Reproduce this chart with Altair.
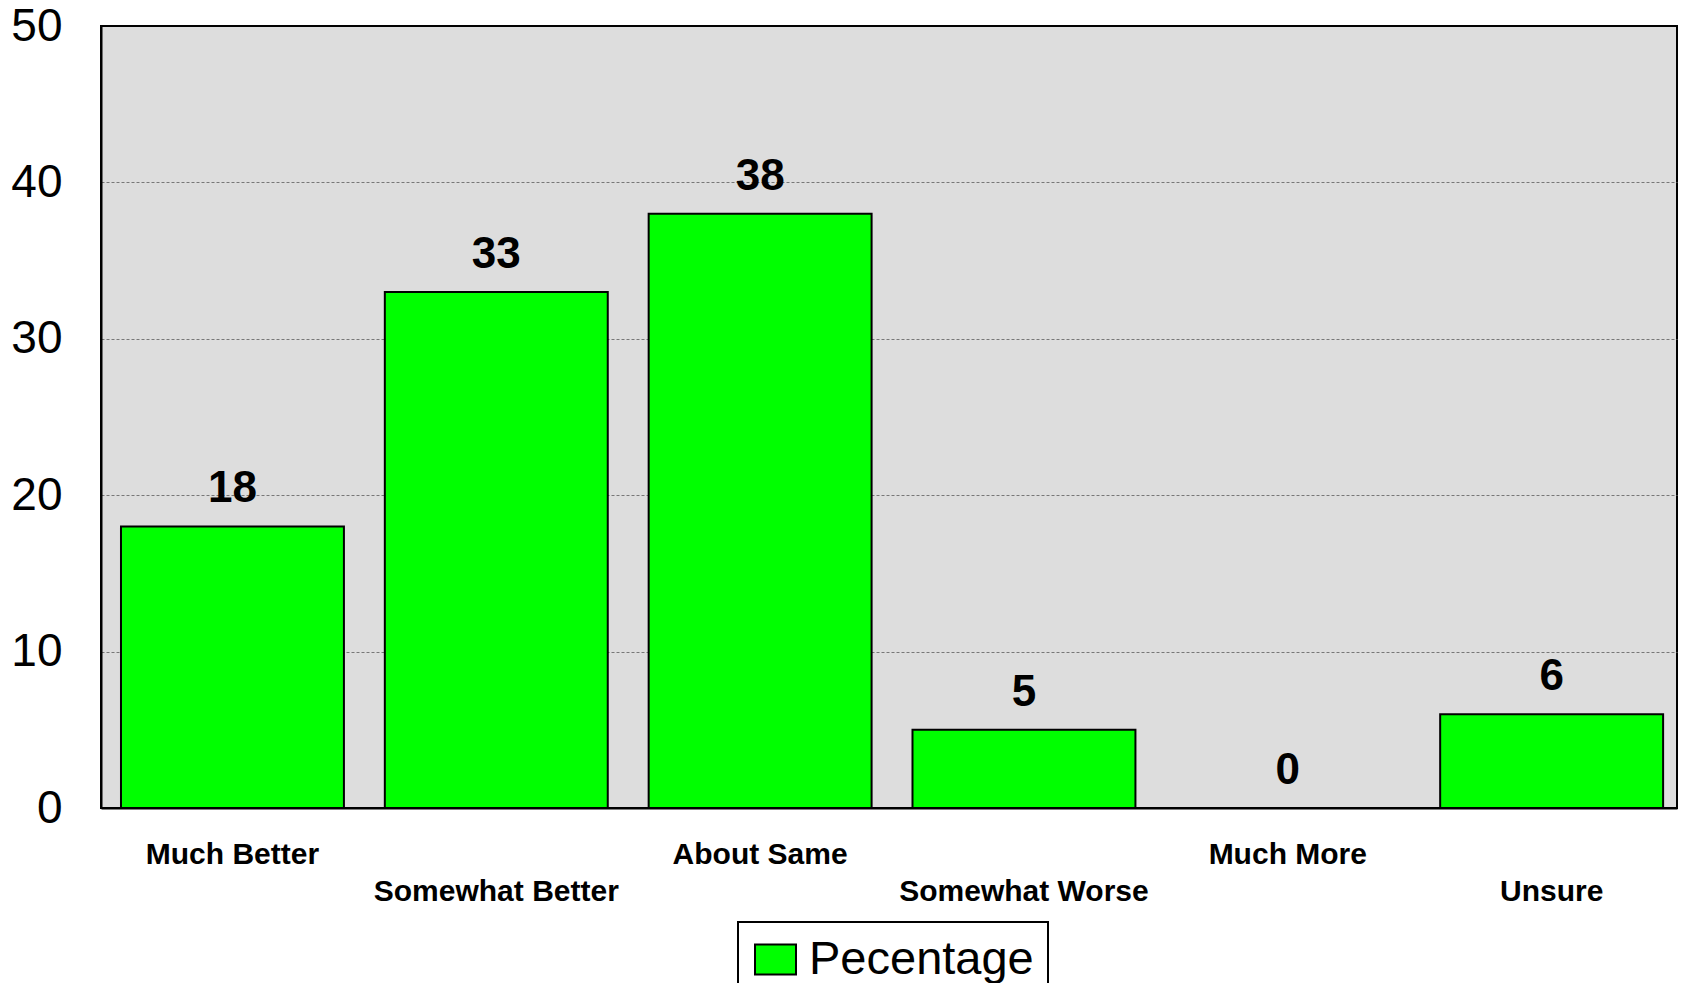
import altair as alt
import pandas as pd

categories = ["Much Better", "Somewhat Better", "About Same", "Somewhat Worse", "Much More", "Unsure"]
values = [18, 33, 38, 5, 0, 6]
series = ["Pecentage"] * len(categories)
second_row = ["Somewhat Better", "Somewhat Worse", "Unsure"]

df = pd.DataFrame({"category": categories, "value": values, "series": series})

FONT = "Liberation Sans"

label_expr = (
    "indexof(" + str(second_row).replace('"', "'") + ", datum.value) >= 0 ? ['', datum.value] : datum.value"
)

x = alt.X(
    "category:N",
    sort=categories,
    scale=alt.Scale(paddingInner=0.155, paddingOuter=0.0642, align=0.59),
    axis=alt.Axis(
        title=None,
        labelAngle=0,
        labelFont=FONT,
        labelFontSize=30,
        labelFontWeight="bold",
        labelColor="black",
        labelPadding=31,
        labelLineHeight=37,
        labelLimit=0,
        labelExpr=label_expr,
        ticks=False,
        domainColor="black",
        domainWidth=2,
    ),
)

y = alt.Y(
    "value:Q",
    scale=alt.Scale(domain=[0, 50], nice=False),
    axis=alt.Axis(
        title=None,
        values=[0, 10, 20, 30, 40, 50],
        labelFont=FONT,
        labelFontSize=46,
        labelColor="black",
        labelPadding=39,
        ticks=False,
        domainColor="black",
        domainWidth=2,
        grid=True,
        gridColor="#777777",
        gridDash=[3, 2],
        gridWidth=1,
        gridOpacity=alt.condition("datum.value == 0 || datum.value == 50", alt.value(0), alt.value(1)),
    ),
)

bars = alt.Chart(df).mark_bar(stroke="black", strokeWidth=2).encode(
    x=x,
    y=y,
    color=alt.Color(
        "series:N",
        scale=alt.Scale(domain=["Pecentage"], range=["#00FF00"]),
        legend=alt.Legend(
            title=None,
            orient="none",
            legendX=637,
            legendY=896,
            direction="horizontal",
            labelFont=FONT,
            labelFontSize=47,
            labelColor="black",
            labelOffset=10,
            labelLimit=0,
            symbolType="M-1,-0.73H1V0.73H-1Z",
            symbolSize=1681,
            symbolStrokeColor="black",
            symbolStrokeWidth=2,
            symbolFillColor="#00FF00",
            strokeColor="black",
            fillColor="white",
            padding=14,
        ),
    ),
)

labels = alt.Chart(df).mark_text(
    font=FONT, fontSize=44, fontWeight="bold", color="black", baseline="alphabetic", dy=-24
).encode(
    x=alt.X("category:N", sort=categories),
    y=alt.Y("value:Q"),
    text=alt.Text("value:Q"),
)

chart = (
    alt.layer(bars, labels)
    .properties(
        width=1576,
        height=782,
        autosize=alt.AutoSizeParams(type="none"),
        padding={"left": 93, "top": 18, "right": 1, "bottom": 175},
        background="white",
    )
    .configure_view(fill="#DDDDDD", stroke="black", strokeWidth=2)
    .configure_legend(strokeWidth=2)
)

chart.save("out.html", embed_options={"renderer": "svg", "actions": False})
